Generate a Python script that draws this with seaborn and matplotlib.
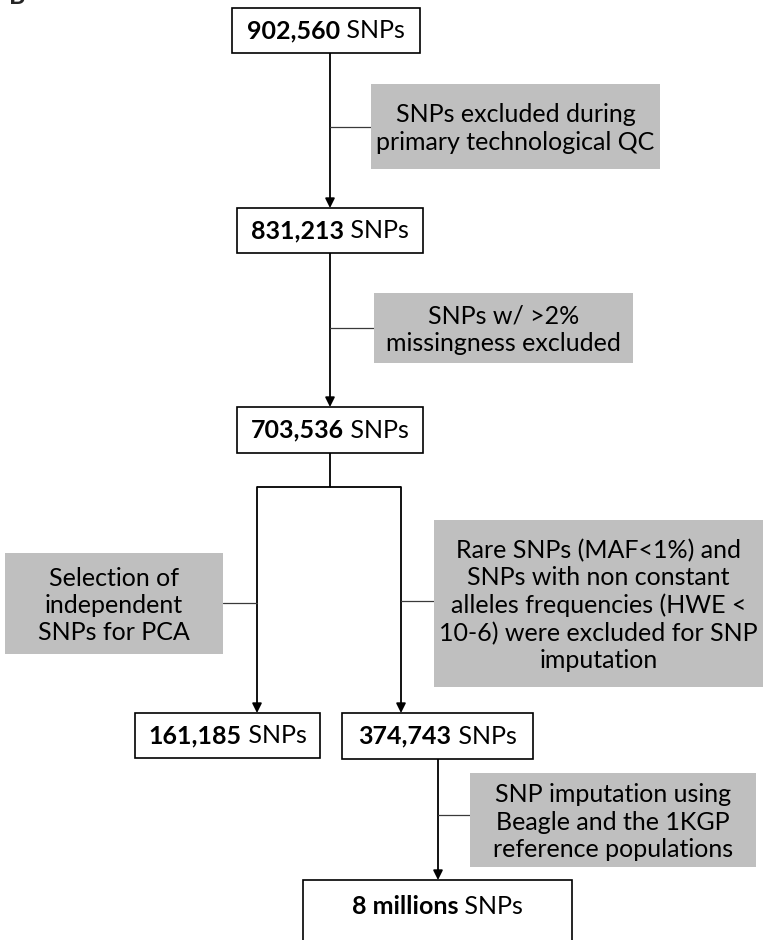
import matplotlib; matplotlib.use("Agg")
import matplotlib.pyplot as plt
import seaborn as sns
from matplotlib.patches import Rectangle
from matplotlib.offsetbox import TextArea, HPacker, AnnotationBbox

sns.set_theme(style="white")
plt.rcParams["font.family"] = ["Lato", "DejaVu Sans"]

# ── data ─────────────────────────────────────────────────────────────
panel_label = "B"
snp_counts = ["902,560", "831,213", "703,536", "161,185", "374,743", "8 millions"]
unit = "SNPs"
filter_steps = [
    "SNPs excluded during\nprimary technological QC",
    "SNPs w/ >2%\nmissingness excluded",
    "Selection of\nindependent\nSNPs for PCA",
    "Rare SNPs (MAF<1%) and\nSNPs with non constant\nalleles frequencies (HWE <\n10-6) were excluded for SNP\nimputation",
    "SNP imputation using\nBeagle and the 1KGP\nreference populations",
]

# ── layout (pixel coords, y down) ────────────────────────────────────
count_boxes = [(232, 8, 420, 53), (237, 208, 423, 253), (237, 407, 423, 453),
               (135, 713, 320, 758), (342, 713, 533, 759), (303, 880, 572, 990)]
count_text_y = [30.5, 230.5, 430, 735.5, 736, 907]
filter_boxes = [(371, 84, 660, 169), (374, 293, 633, 363), (5, 553, 223, 654),
                (434, 520, 763, 687), (470, 773, 756, 867)]
# arrows: polyline, last segment gets the head
arrows = [[(330, 53), (330, 208)],
          [(330, 253), (330, 407)],
          [(330, 453), (330, 487), (257, 487), (257, 713)],
          [(330, 487), (401, 487), (401, 713)],
          [(438, 759), (438, 880)]]
# side connectors: (x_from, x_to, y)
connectors = [(330, 371, 127), (330, 374, 328), (223, 257, 603),
              (401, 434, 601), (438, 470, 815)]

GRAY = "#BFBFBF"
FS = 18

fig = plt.figure(figsize=(7.65, 9.4), dpi=100)
ax = fig.add_axes([0, 0, 1, 1])
ax.set_xlim(0, 765)
ax.set_ylim(940, 0)
ax.axis("off")

# panel label, cut at the top edge as in the source figure
ax.text(9, 4, panel_label, fontsize=FS, fontweight="bold", ha="left",
        va="baseline", clip_on=False)

for (x0, y0, x1, y1) in count_boxes:
    ax.add_patch(Rectangle((x0, y0), x1 - x0, y1 - y0, facecolor="white",
                           edgecolor="black", linewidth=1.2, zorder=3))

for (x0, y0, x1, y1), cy, num in zip(count_boxes, count_text_y, snp_counts):
    bold = TextArea(num, textprops=dict(fontsize=FS, fontweight="bold", color="black"))
    reg = TextArea(" " + unit, textprops=dict(fontsize=FS, color="black"))
    pack = HPacker(children=[bold, reg], align="baseline", pad=0, sep=0)
    ab = AnnotationBbox(pack, ((x0 + x1) / 2, cy), frameon=False,
                        box_alignment=(0.5, 0.5), zorder=4)
    ax.add_artist(ab)

for (x0, y0, x1, y1), txt in zip(filter_boxes, filter_steps):
    ax.add_patch(Rectangle((x0, y0), x1 - x0, y1 - y0, facecolor=GRAY,
                           edgecolor="none", zorder=2))
    ax.text((x0 + x1) / 2, (y0 + y1) / 2 + 2, txt, fontsize=FS, ha="center",
            va="center", linespacing=1.22, color="black", zorder=4)

for pts in arrows:
    xs = [p[0] for p in pts]
    ys = [p[1] for p in pts]
    ax.plot(xs[:-1], ys[:-1], color="black", linewidth=1.3, zorder=1,
            solid_capstyle="butt")
    ax.annotate("", xy=pts[-1], xytext=pts[-2],
                arrowprops=dict(arrowstyle="-|>", color="black", lw=1.3,
                                mutation_scale=14, shrinkA=0, shrinkB=0),
                zorder=1)

for xa, xb, y in connectors:
    ax.plot([xa, xb], [y, y], color="#3A3A3A", linewidth=0.9, zorder=1)

fig.savefig("out.png", dpi=100)
